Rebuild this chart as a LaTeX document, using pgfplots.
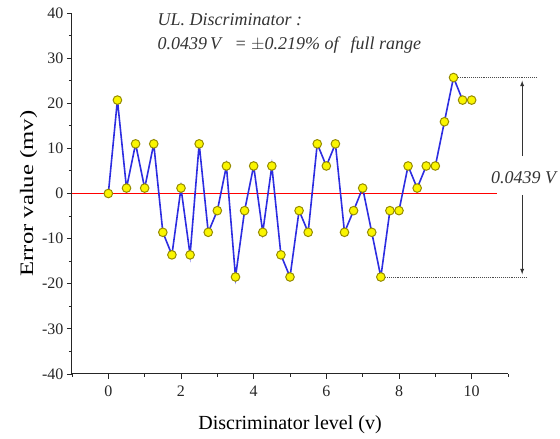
\documentclass[border=0pt]{standalone}
\usepackage{pgfplots}
\pgfplotsset{compat=1.18}
\usepackage{fontspec}
\setmainfont{Liberation Serif}
\usetikzlibrary{calc}
\definecolor{lblue}{RGB}{45,45,225}
\definecolor{myellow}{RGB}{250,245,0}
\definecolor{medge}{RGB}{150,140,0}
\definecolor{lred}{RGB}{240,20,20}
\begin{document}
\begin{tikzpicture}
\begin{axis}[
  scale only axis,
  width=436pt, height=361pt,
  xmin=-1, xmax=11, ymin=-40, ymax=40,
  axis x line=bottom, axis y line=left,
  axis line style={-, line width=1pt, black!85},
  tick align=outside,
  major tick length=5pt, minor tick length=3pt,
  tick style={black!85, line width=0.9pt},
  xtick={0,2,4,6,8,10},
  minor xtick={-1,1,3,5,7,9,11},
  ytick={-40,-30,...,40},
  minor ytick={-35,-25,...,35},
  /pgf/number format/assume math mode=true,
  tick label style={font=\fontsize{16}{18}\selectfont, text=black!85},
  xticklabel style={yshift=-3pt},
  xlabel={\fontsize{20}{22}\selectfont Discriminator level (v)},
  ylabel={\scalebox{1.3}[1]{\fontsize{19}{21}\selectfont Error value (mv)}},
  xlabel style={yshift=-12pt},
  ylabel style={yshift=-2pt},
  clip=false,
]
\addplot[draw=red, line width=1.5pt, no markers, forget plot] table {
x y
-1 0
10.7 0
};
\addplot[color=lblue, line width=1.6pt, mark=*, mark size=4.3pt,
  mark options={fill=myellow, draw=medge, line width=1pt}] coordinates {
(0,0) (0.25,20.7) (0.5,1.2) (0.75,11) (1,1.2) (1.25,11)
(1.5,-8.6) (1.75,-13.6) (2,1.2) (2.25,-13.6) (2.5,11) (2.75,-8.6)
(3,-3.8) (3.25,6.1) (3.5,-18.5) (3.75,-3.8) (4,6.1) (4.25,-8.6)
(4.5,6.1) (4.75,-13.6) (5,-18.5) (5.25,-3.8) (5.5,-8.6) (5.75,11)
(6,6.1) (6.25,11) (6.5,-8.6) (6.75,-3.8) (7,1.2) (7.25,-8.6)
(7.5,-18.5) (7.75,-3.8) (8,-3.8) (8.25,6.1) (8.5,1.2) (8.75,6.1)
(9,6.1) (9.25,15.9) (9.5,25.7) (9.75,20.7) (10,20.7)
};
\draw[black!70, densely dotted, line width=0.9pt] (axis cs:9.62,25.7) -- (axis cs:11.77,25.7);
\draw[black!70, densely dotted, line width=0.9pt] (axis cs:7.62,-18.5) -- (axis cs:11.53,-18.5);
\draw[-latex, black!80, line width=0.9pt] (axis cs:11.39,8.3) -- (axis cs:11.39,25.0);
\draw[-latex, black!80, line width=0.9pt] (axis cs:11.39,-0.3) -- (axis cs:11.39,-17.9);
\node[anchor=east, inner sep=0pt, font=\fontsize{18}{20}\selectfont\itshape, text=black!80] at (axis cs:12.33,3.5) {0.0439 V};
\node[anchor=base west, inner sep=0pt, font=\fontsize{18}{20}\selectfont\itshape, text=black!80] at (axis cs:1.35,37.3) {UL. Discriminator :};
\node[anchor=base west, inner sep=0pt, font=\fontsize{18}{20}\selectfont\itshape, text=black!80] at (axis cs:1.35,32.0) {0.0439\,V \ \ = $\pm$0.219\% of \ \,full range};
\end{axis}
\pgfresetboundingbox
\path[use as bounding box] ($(current axis.south west)+(-72pt,-65pt)$) rectangle ($(current axis.north east)+(52pt,13pt)$);
\end{tikzpicture}
\end{document}
